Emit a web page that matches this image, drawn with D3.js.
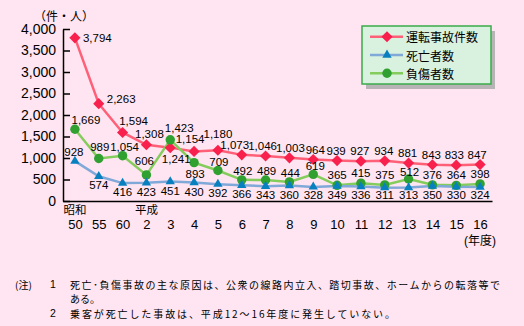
<!DOCTYPE html>
<html>
<head>
<meta charset="utf-8">
<script src="https://cdn.jsdelivr.net/npm/d3@7"></script>
<style>
  html, body { margin: 0; padding: 0; background: #fee5f1; }
  svg { display: block; }
  text { font-family: "Liberation Sans", "Noto Sans CJK JP", sans-serif; fill: #000; }
  .cjk { font-family: "Noto Sans CJK JP", sans-serif; }
</style>
</head>
<body>
<script>
// ---- data ----
const categories = ["50","55","60","2","3","4","5","6","7","8","9","10","11","12","13","14","15","16"];
const accidents = [3794,2263,1594,1308,1241,1154,1180,1073,1046,1003,964,939,927,934,881,843,833,847];
const deaths    = [928,574,416,423,451,430,392,366,343,360,328,349,336,311,313,350,330,324];
const injuries  = [1669,989,1054,606,1423,893,709,492,489,444,619,365,415,375,512,376,364,398];
const yTicks = [0,500,1000,1500,2000,2500,3000,3500,4000];
const eras = [["50","昭和"],["2","平成"]];
const seriesNames = ["運転事故件数","死亡者数","負傷者数"];
const unitLabel = "（件・人）";
const xUnitLabel = "(年度)";
const notes = [
  ["(注)", "1", "死亡･負傷事故の主な原因は、公衆の線路内立入、踏切事故、ホームからの転落等で"],
  ["", "", "ある。"],
  ["", "2", "乗客が死亡した事故は、平成12～16年度に発生していない。"]
];

// ---- label placement (layout only: [dx, dy, anchor]) ----
const accLabelPos = [[8,0,"start"],[8,-5,"start"],[11,-11,"middle"],[3,-11,"middle"],[6,11,"middle"],[-4,-12,"middle"],[0,-16,"middle"],
  [-7,-10,"middle"],[-3,-10,"middle"],[1,-10,"middle"],[2,-10,"middle"],[-1,-10,"middle"],[-1,-10,"middle"],[-1,-10,"middle"],[-1,-10,"middle"],[-1,-10,"middle"],[-2,-10,"middle"],[-3,-10,"middle"]];
const injLabelPos = [[11,-9,"middle"],[1,-11,"middle"],[2,-9,"middle"],[-2,-14,"middle"],[9,-12,"middle"],[1,11,"middle"],[1,-9,"middle"],
  [1,-9,"middle"],[1,-9,"middle"],[1,-9,"middle"],[2,-8,"middle"],[0,-10,"middle"],[0,-10,"middle"],[0,-10,"middle"],[1,-7,"middle"],[0,-10,"middle"],[0,-10,"middle"],[0,-10,"middle"]];
const deathLabelPos = categories.map((c,i) => i === 0 ? [-1,-9,"middle"] : [0,9,"middle"]);

const W = 524, H = 326;
const svg = d3.select("body").append("svg").attr("width", W).attr("height", H);
svg.append("rect").attr("width", W).attr("height", H).attr("fill", "#fee5f1");

const x = d3.scalePoint().domain(categories).range([63, 492]).padding(0.5);
const y = d3.scaleLinear().domain([0, 4000]).range([201, 29]);

// y axis
const yAxis = svg.append("g").attr("transform", "translate(63,0)")
  .call(d3.axisLeft(y).tickValues(yTicks).tickSize(-7).tickSizeOuter(0).tickPadding(7).tickFormat(d3.format(",")));
yAxis.select(".domain").attr("stroke", "#000").attr("stroke-width", 1.5);
yAxis.selectAll(".tick line").attr("stroke", "#000").attr("stroke-width", 1.5);
yAxis.selectAll(".tick text").attr("font-size", 14).attr("font-family", "Liberation Sans, sans-serif");

// x axis
const xAxis = svg.append("g").attr("transform", "translate(0,201)")
  .call(d3.axisBottom(x).tickSize(0).tickPadding(19));
xAxis.select(".domain").attr("stroke", "#000").attr("stroke-width", 1.5);
xAxis.selectAll(".tick text").attr("font-size", 13).attr("font-family", "Liberation Sans, sans-serif");

// era labels
svg.selectAll("text.era").data(eras).enter().append("text")
  .attr("class", "era cjk").attr("x", d => x(d[0])).attr("y", 209)
  .attr("text-anchor", "middle").attr("dominant-baseline", "central")
  .attr("font-size", 11.5).text(d => d[1]);

svg.append("text").attr("class", "cjk").attr("x", 64).attr("y", 15).attr("text-anchor", "middle")
  .attr("dominant-baseline", "central").attr("font-size", 12).text(unitLabel);
svg.append("text").attr("x", 480).attr("y", 241).attr("text-anchor", "middle")
  .attr("dominant-baseline", "central").attr("font-size", 12).text(xUnitLabel);

// series
const series = [
  { name: seriesNames[0], values: accidents, line: "#ff6078", mark: "#f8204c", sym: "diamond", pos: accLabelPos },
  { name: seriesNames[1], values: deaths,    line: "#80a8d8", mark: "#0880c0", sym: "triangle", pos: deathLabelPos },
  { name: seriesNames[2], values: injuries,  line: "#84cc5c", mark: "#30a030", sym: "circle", pos: injLabelPos }
];

function marker(g, s, cx, cy) {
  if (s.sym === "diamond") {
    g.append("path").attr("d", d3.symbol(d3.symbolSquare, 62)())
      .attr("transform", `translate(${cx},${cy}) rotate(45)`).attr("fill", s.mark);
  } else if (s.sym === "triangle") {
    g.append("path").attr("d", d3.symbol(d3.symbolTriangle, 38)())
      .attr("transform", `translate(${cx},${cy})`).attr("fill", s.mark);
  } else {
    g.append("circle").attr("cx", cx).attr("cy", cy).attr("r", 4.7).attr("fill", s.mark);
  }
}

const line = d3.line().x((d, i) => x(categories[i])).y(d => y(d));
const drawOrder = [0, 2, 1];
drawOrder.forEach(k => {
  const s = series[k];
  svg.append("path").datum(s.values).attr("d", line)
    .attr("fill", "none").attr("stroke", s.line).attr("stroke-width", 2.5);
});
drawOrder.forEach(k => {
  const s = series[k];
  const g = svg.append("g");
  s.values.forEach((v, i) => marker(g, s, x(categories[i]), y(v)));
});
// labels
series.forEach(s => {
  svg.append("g").selectAll("text").data(s.values).enter().append("text")
    .attr("x", (d, i) => x(categories[i]) + s.pos[i][0])
    .attr("y", (d, i) => Math.min(y(d) + s.pos[i][1], 195))
    .attr("text-anchor", (d, i) => s.pos[i][2])
    .attr("dominant-baseline", "central")
    .attr("font-size", 11.5)
    .text(d => d3.format(",")(d));
});

// legend
const lg = svg.append("g").attr("transform", "translate(362,26)");
lg.append("rect").attr("x", 4).attr("y", 5).attr("width", 129).attr("height", 58).attr("fill", "#b8b4b6");
lg.append("rect").attr("x", 0).attr("y", 0).attr("width", 129).attr("height", 58)
  .attr("fill", "#d9f1df").attr("stroke", "#3aaa4a").attr("stroke-width", 1.5);
series.forEach((s, i) => {
  const ry = 10.7 + i * 18.3;
  lg.append("line").attr("x1", 8).attr("x2", 41).attr("y1", ry).attr("y2", ry)
    .attr("stroke", s.line).attr("stroke-width", 2.5);
  marker(lg, s, 25, ry);
  lg.append("text").attr("class", "cjk").attr("x", 44).attr("y", ry).attr("dominant-baseline", "central")
    .attr("font-size", 12).text(s.name);
});

// notes
notes.forEach((n, i) => {
  const ny = 284 + i * 14.6;
  svg.append("text").attr("class", "cjk").attr("x", 15).attr("y", ny).attr("dominant-baseline", "central").attr("font-size", 10).text(n[0]);
  svg.append("text").attr("x", 50).attr("y", ny).attr("dominant-baseline", "central").attr("font-size", 10.5).text(n[1]);
  const t = svg.append("text").attr("class", "cjk").attr("x", 70).attr("y", ny).attr("dominant-baseline", "central").attr("font-size", 10).text(n[2]);
  if (i === 0) t.attr("textLength", 430).attr("lengthAdjust", "spacing");
  if (i === 2) t.attr("textLength", 325).attr("lengthAdjust", "spacing");
});
</script>
</body>
</html>
